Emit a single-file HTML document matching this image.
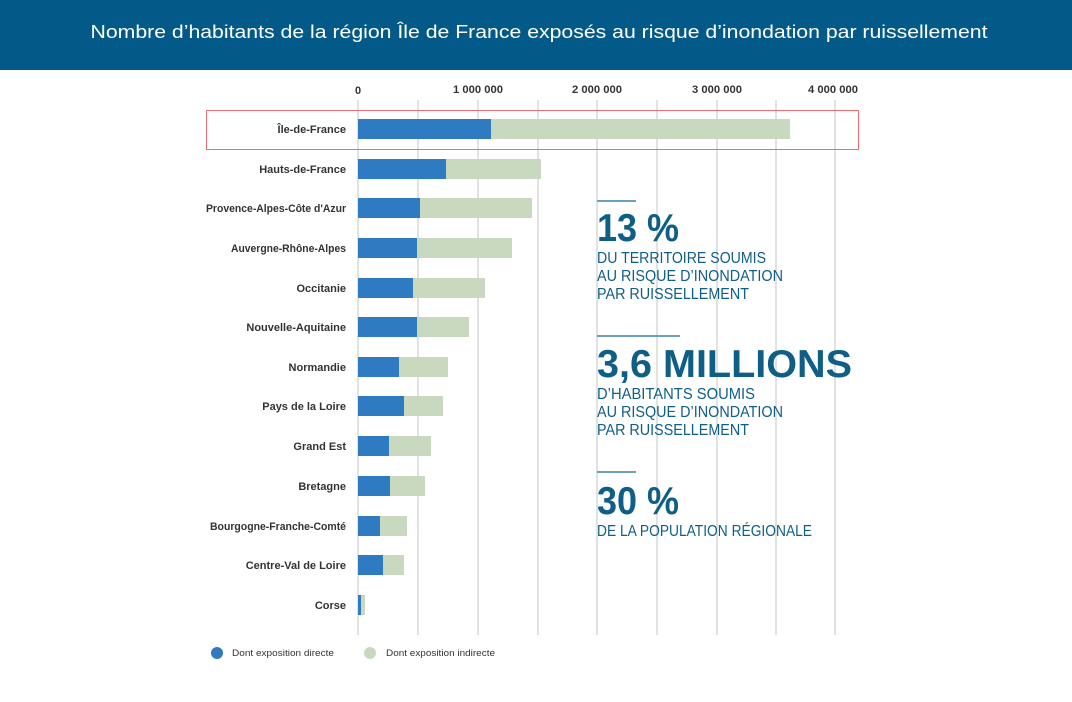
<!DOCTYPE html>
<html><head><meta charset="utf-8"><style>
html,body{margin:0;padding:0;background:#fff;}
svg{display:block;}
</style></head><body>
<svg width="1072" height="702" viewBox="0 0 1072 702" xmlns="http://www.w3.org/2000/svg" font-family="Liberation Sans, sans-serif">
<rect x="0" y="0" width="1072" height="702" fill="#fff"/>
<rect x="0" y="0" width="1072" height="70" fill="#035a88"/>
<text x="539" y="38" fill="#fff" font-size="18" text-anchor="middle" textLength="897" lengthAdjust="spacingAndGlyphs">Nombre d’habitants de la région Île de France exposés au risque d’inondation par ruissellement</text>
<g stroke="#e2e2e2" stroke-width="2">
<line x1="358" y1="100" x2="358" y2="635"/><line x1="418" y1="100" x2="418" y2="635"/><line x1="478" y1="100" x2="478" y2="635"/><line x1="538" y1="100" x2="538" y2="635"/><line x1="597" y1="100" x2="597" y2="635"/><line x1="657" y1="100" x2="657" y2="635"/><line x1="717" y1="100" x2="717" y2="635"/><line x1="776" y1="100" x2="776" y2="635"/><line x1="835" y1="100" x2="835" y2="635"/>
</g>
<g font-size="11" font-weight="bold" fill="#333" text-anchor="middle">
<text x="358" y="94">0</text>
<text x="478" y="93" textLength="50" lengthAdjust="spacingAndGlyphs">1 000 000</text>
<text x="597" y="93" textLength="50" lengthAdjust="spacingAndGlyphs">2 000 000</text>
<text x="717" y="93" textLength="50" lengthAdjust="spacingAndGlyphs">3 000 000</text>
<text x="833" y="93" textLength="50" lengthAdjust="spacingAndGlyphs">4 000 000</text>
</g>
<rect x="206.5" y="110.5" width="652" height="39" fill="none" stroke="#f06b6b" stroke-width="1"/>
<g id="bars">
<rect x="358" y="119" width="432" height="20" fill="#c8d9c0"/><rect x="358" y="119" width="133" height="20" fill="#2f7bc1"/>
<rect x="358" y="159" width="183" height="20" fill="#c8d9c0"/><rect x="358" y="159" width="88" height="20" fill="#2f7bc1"/>
<rect x="358" y="198" width="174" height="20" fill="#c8d9c0"/><rect x="358" y="198" width="62" height="20" fill="#2f7bc1"/>
<rect x="358" y="238" width="154" height="20" fill="#c8d9c0"/><rect x="358" y="238" width="59" height="20" fill="#2f7bc1"/>
<rect x="358" y="278" width="127" height="20" fill="#c8d9c0"/><rect x="358" y="278" width="55" height="20" fill="#2f7bc1"/>
<rect x="358" y="317" width="111" height="20" fill="#c8d9c0"/><rect x="358" y="317" width="59" height="20" fill="#2f7bc1"/>
<rect x="358" y="357" width="90" height="20" fill="#c8d9c0"/><rect x="358" y="357" width="41" height="20" fill="#2f7bc1"/>
<rect x="358" y="396" width="85" height="20" fill="#c8d9c0"/><rect x="358" y="396" width="46" height="20" fill="#2f7bc1"/>
<rect x="358" y="436" width="73" height="20" fill="#c8d9c0"/><rect x="358" y="436" width="31" height="20" fill="#2f7bc1"/>
<rect x="358" y="476" width="67" height="20" fill="#c8d9c0"/><rect x="358" y="476" width="32" height="20" fill="#2f7bc1"/>
<rect x="358" y="516" width="49" height="20" fill="#c8d9c0"/><rect x="358" y="516" width="22" height="20" fill="#2f7bc1"/>
<rect x="358" y="555" width="46" height="20" fill="#c8d9c0"/><rect x="358" y="555" width="25" height="20" fill="#2f7bc1"/>
<rect x="358" y="595" width="7" height="20" fill="#c8d9c0"/><rect x="358" y="595" width="3" height="20" fill="#2f7bc1"/>
</g>
<g font-size="11" font-weight="bold" fill="#333" text-anchor="end">
<text x="346" y="133">Île-de-France</text>
<text x="346" y="173">Hauts-de-France</text>
<text x="346" y="212" textLength="140" lengthAdjust="spacingAndGlyphs">Provence-Alpes-Côte d'Azur</text>
<text x="346" y="252" textLength="115" lengthAdjust="spacingAndGlyphs">Auvergne-Rhône-Alpes</text>
<text x="346" y="292">Occitanie</text>
<text x="346" y="331">Nouvelle-Aquitaine</text>
<text x="346" y="371">Normandie</text>
<text x="346" y="410">Pays de la Loire</text>
<text x="346" y="450">Grand Est</text>
<text x="346" y="490">Bretagne</text>
<text x="346" y="530" textLength="136" lengthAdjust="spacingAndGlyphs">Bourgogne-Franche-Comté</text>
<text x="346" y="569">Centre-Val de Loire</text>
<text x="346" y="609">Corse</text>
</g>
<circle cx="217" cy="653" r="6" fill="#2f7bc1"/>
<circle cx="370" cy="653" r="6" fill="#c8d9c0"/>
<g font-size="9" fill="#333">
<text x="232" y="656" textLength="102" lengthAdjust="spacingAndGlyphs">Dont exposition directe</text>
<text x="386" y="656" textLength="109" lengthAdjust="spacingAndGlyphs">Dont exposition indirecte</text>
</g>
<g fill="#0f5e86">
<rect x="597" y="200" width="39" height="2" fill="#6b9fbd"/>
<rect x="597" y="335" width="83" height="2" fill="#6b9fbd"/>
<rect x="597" y="471" width="39" height="2" fill="#6b9fbd"/>
<text x="597" y="241" font-size="39" font-weight="bold" textLength="82" lengthAdjust="spacingAndGlyphs">13 %</text>
<text x="597" y="263" font-size="16" textLength="169" lengthAdjust="spacingAndGlyphs">DU TERRITOIRE SOUMIS</text>
<text x="597" y="281" font-size="16" textLength="186" lengthAdjust="spacingAndGlyphs">AU RISQUE D’INONDATION</text>
<text x="597" y="299" font-size="16" textLength="152" lengthAdjust="spacingAndGlyphs">PAR RUISSELLEMENT</text>
<text x="597" y="377" font-size="39" font-weight="bold" textLength="255" lengthAdjust="spacingAndGlyphs">3,6 MILLIONS</text>
<text x="597" y="399" font-size="16" textLength="158" lengthAdjust="spacingAndGlyphs">D’HABITANTS SOUMIS</text>
<text x="597" y="417" font-size="16" textLength="186" lengthAdjust="spacingAndGlyphs">AU RISQUE D’INONDATION</text>
<text x="597" y="435" font-size="16" textLength="152" lengthAdjust="spacingAndGlyphs">PAR RUISSELLEMENT</text>
<text x="597" y="514" font-size="39" font-weight="bold" textLength="82" lengthAdjust="spacingAndGlyphs">30 %</text>
<text x="597" y="536" font-size="16" textLength="215" lengthAdjust="spacingAndGlyphs">DE LA POPULATION RÉGIONALE</text>
</g>
</svg>
</body></html>
